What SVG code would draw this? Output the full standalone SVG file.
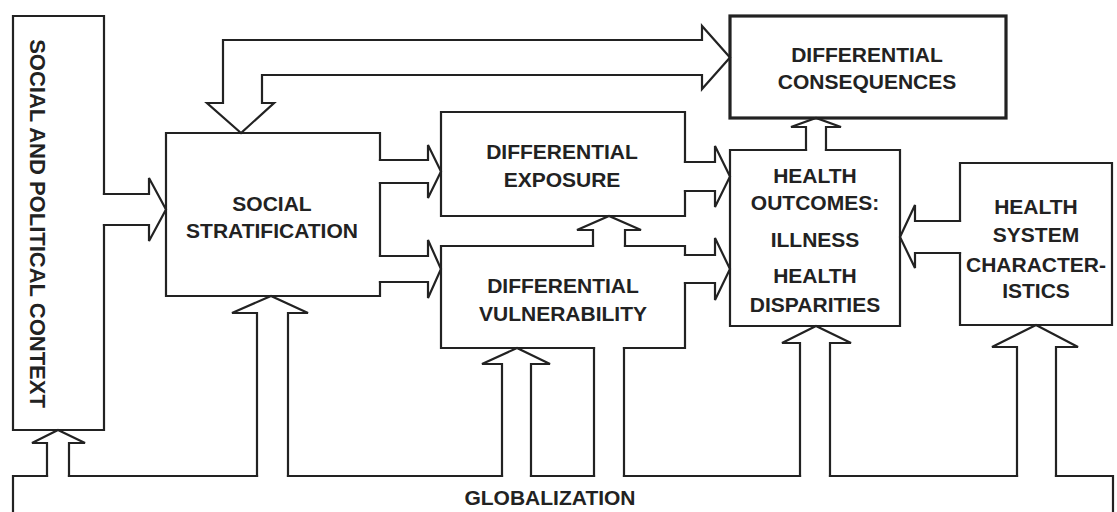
<svg xmlns="http://www.w3.org/2000/svg" width="1117" height="512" viewBox="0 0 1117 512">
<style>
.ln{fill:none;stroke:#222;stroke-width:2.2;stroke-linejoin:miter;stroke-linecap:square}
.thick{stroke-width:3.2}
.t{font-family:"Liberation Sans",Arial,sans-serif;font-weight:bold;font-size:21px;fill:#222;text-anchor:middle}
</style>
<rect width="1117" height="512" fill="#fff"/>
<g id="context">
<path class="ln" d="M104,194 V16 H13 V430 H104 V225"/>
<text class="t" style="font-size:22px" x="30" y="223.5" transform="rotate(90 30 223.5)">SOCIAL AND POLITICAL CONTEXT</text>
</g>
<g id="social-stratification">
<path class="ln" d="M380,160 V133 H166 V296 H380 V282 M380,256 V183"/>
<text class="t" x="272" y="211">SOCIAL</text>
<text class="t" x="272" y="238">STRATIFICATION</text>
</g>
<g id="differential-exposure">
<path class="ln" d="M685,162 V112 H441 V216 H685 V191"/>
<text class="t" x="562" y="159">DIFFERENTIAL</text>
<text class="t" x="562" y="187">EXPOSURE</text>
</g>
<g id="differential-vulnerability">
<path class="ln" d="M685,255 V246 H625 M593,246 H441 V348 H594 M624,348 H685 V283"/>
<text class="t" x="563" y="293">DIFFERENTIAL</text>
<text class="t" x="563" y="321">VULNERABILITY</text>
</g>
<g id="differential-consequences">
<rect class="ln thick" x="730" y="16" width="276" height="102"/>
<text class="t" x="867" y="62">DIFFERENTIAL</text>
<text class="t" x="867" y="89">CONSEQUENCES</text>
</g>
<g id="health-outcomes">
<path class="ln" d="M806,150 H730 V326 H900 V150 H826"/>
<text class="t" x="815" y="183">HEALTH</text>
<text class="t" x="815" y="210">OUTCOMES:</text>
<text class="t" x="815" y="247">ILLNESS</text>
<text class="t" x="815" y="283">HEALTH</text>
<text class="t" x="815" y="312">DISPARITIES</text>
</g>
<g id="health-system">
<path class="ln" d="M960,221 V163 H1112 V325 H960 V253"/>
<text class="t" x="1036" y="214">HEALTH</text>
<text class="t" x="1036" y="242">SYSTEM</text>
<text class="t" x="1036" y="272">CHARACTER-</text>
<text class="t" x="1036" y="298">ISTICS</text>
</g>
<g id="globalization">
<path class="ln" d="M13,520 V476 H47 M69,476 H257 M288,476 H502 M531,476 H594 M624,476 H800 M830,476 H1017 M1056,476 H1113 V520"/>
<text class="t" x="550" y="505">GLOBALIZATION</text>
</g>
<g id="connectors">
<path class="ln" d="M104,194 H149 V178 L166,209.5 L149,241 V225 H104"/>
<path class="ln" d="M380,160 H428 V145 L441,171.5 L428,198 V183 H380"/>
<path class="ln" d="M380,256 H428 V240 L441,269 L428,298 V282 H380"/>
<path class="ln" d="M685,162 H715 V146 L730,176.5 L715,207 V191 H685"/>
<path class="ln" d="M685,255 H715 V238 L730,269 L715,300 V283 H685"/>
<path class="ln" d="M593,246 V230 H577 L609,216 L641,230 H625 V246"/>
<path class="ln" d="M806,150 V127 H791 L816,118 L841,127 H826 V150"/>
<path class="ln" d="M960,221 H915 V205 L900,237 L915,268 V253 H960"/>
<path class="ln" d="M241,133 L207,103 H223 V40 H702 V26 L730,57.5 L702,89 V75 H262 V103 H274 Z"/>
<path class="ln" d="M47,476 V443 H32 L58,430 L85,443 H69 V476"/>
<path class="ln" d="M257,476 V313 H232 L271,296 L308,313 H288 V476"/>
<path class="ln" d="M502,476 V364 H482 L517,348 L550,364 H531 V476"/>
<path class="ln" d="M594,476 V348 M624,348 V476"/>
<path class="ln" d="M800,476 V343 H782 L816,326 L851,343 H830 V476"/>
<path class="ln" d="M1017,476 V347 H992 L1036,325 L1078,347 H1056 V476"/>
</g>
</svg>
